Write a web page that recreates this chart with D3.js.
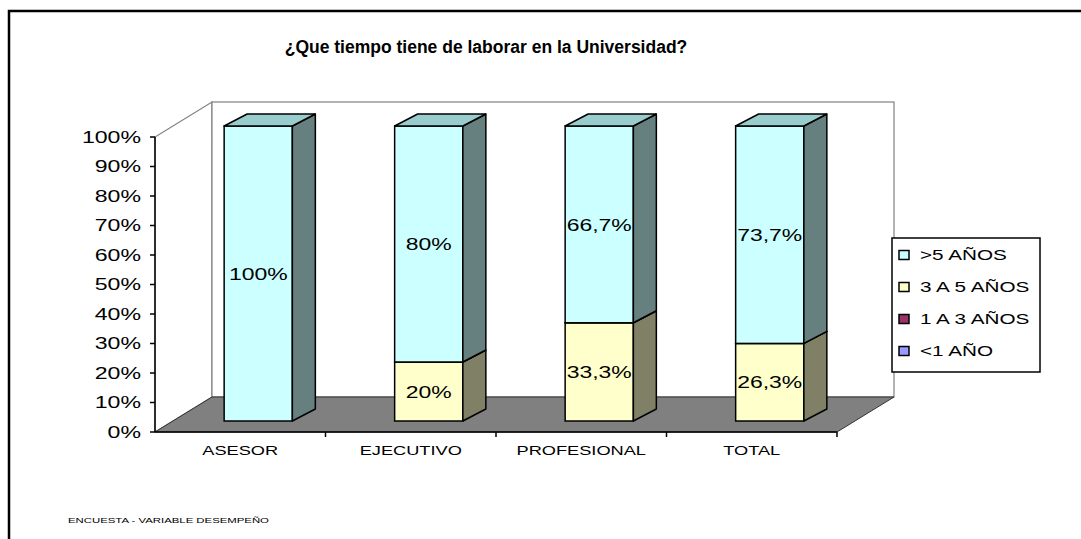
<!DOCTYPE html>
<html>
<head>
<meta charset="utf-8">
<script src="https://cdn.jsdelivr.net/npm/d3@7"></script>
<style>
  html, body { margin: 0; padding: 0; background: #fff; }
  svg { display: block; font-family: "Liberation Sans", Arial, sans-serif; }
</style>
</head>
<body>
<div id="graphContainer"></div>
<script>
// datos de la encuesta (porcentajes)
const categories = ['ASESOR', 'EJECUTIVO', 'PROFESIONAL', 'TOTAL'];
const seriesNames = ['>5 AÑOS', '3 A 5 AÑOS', '1 A 3 AÑOS', '<1 AÑO'];
const menos1 = [0, 0, 0, 0];
const de1a3 = [0, 0, 0, 0];
const de3a5 = [0, 20, 33.3, 26.3];
const mas5 = [100, 80, 66.7, 73.7];
const yTicks = [0, 10, 20, 30, 40, 50, 60, 70, 80, 90, 100];

const width = 1081;
const height = 539;

// colores: frente, lado, arriba
const colors = {
    '>5 AÑOS': ['#ccffff', '#668080', '#99cccc'],
    '3 A 5 AÑOS': ['#ffffcc', '#808066', '#cccca3'],
    '1 A 3 AÑOS': ['#993366', '#4d1a33', '#7a2952'],
    '<1 AÑO': ['#9999ff', '#4d4d80', '#7a7acc']
};

drawGraph();

function drawGraph() {
    const svg = d3.select('#graphContainer')
        .append('svg')
        .attr('width', width)
        .attr('height', height);

    // marco exterior
    svg.append('path')
        .attr('d', 'M9,' + height + ' V11 H' + width)
        .attr('fill', 'none')
        .attr('stroke', '#000')
        .attr('stroke-width', 2.5);

    const x = d3.scaleBand().domain(categories).range([155, 837]);
    const y = d3.scaleLinear().domain([0, 100]).range([432, 137]);

    const depth = [57, -35];     // profundidad del piso
    const barOff = [18, -11];    // frente de la barra
    const barDepth = [23, -12];  // grosor de la barra

    const y0 = y(0), y1 = y(100);
    const xL = x.range()[0], xR = x.range()[1];

    // pared izquierda
    svg.append('polygon')
        .attr('points', [[xL, y0], [xL, y1], [xL + depth[0], y1 + depth[1]], [xL + depth[0], y0 + depth[1]]].join(' '))
        .attr('fill', '#fff')
        .attr('stroke', '#808080')
        .attr('stroke-width', 1.2);

    // pared del fondo
    svg.append('rect')
        .attr('x', xL + depth[0])
        .attr('y', y1 + depth[1])
        .attr('width', xR - xL)
        .attr('height', y0 - y1)
        .attr('fill', '#fff')
        .attr('stroke', '#808080')
        .attr('stroke-width', 1.2);

    // piso
    svg.append('polygon')
        .attr('points', [[xL, y0], [xR, y0], [xR + depth[0], y0 + depth[1]], [xL + depth[0], y0 + depth[1]]].join(' '))
        .attr('fill', '#808080')
        .attr('stroke', '#333')
        .attr('stroke-width', 1);

    // eje y
    svg.append('line')
        .attr('x1', xL).attr('x2', xL)
        .attr('y1', y0).attr('y2', y1)
        .attr('stroke', '#000').attr('stroke-width', 1.5);

    svg.append('g')
        .selectAll('line')
        .data(yTicks)
        .enter()
        .append('line')
        .attr('x1', xL - 5).attr('x2', xL)
        .attr('y1', d => y(d)).attr('y2', d => y(d))
        .attr('stroke', '#000').attr('stroke-width', 1.5);

    const yLabels = svg.append('g')
        .selectAll('text')
        .data(yTicks)
        .enter()
        .append('text')
        .attr('x', 141)
        .attr('y', d => y(d))
        .attr('dy', '0.36em')
        .attr('text-anchor', 'end')
        .attr('font-size', 16.5)
        .text(d => d + '%');
    stretch(yLabels, 1.4);

    // eje x
    svg.append('line')
        .attr('x1', xL).attr('x2', xR)
        .attr('y1', y0).attr('y2', y0)
        .attr('stroke', '#000').attr('stroke-width', 1.5);

    svg.append('g')
        .selectAll('line')
        .data(categories.slice(1).concat(['__end']))
        .enter()
        .append('line')
        .attr('x1', d => d === '__end' ? xR : x(d))
        .attr('x2', d => d === '__end' ? xR : x(d))
        .attr('y1', y0).attr('y2', y0 + 5)
        .attr('stroke', '#000').attr('stroke-width', 1.5);

    const xLabels = svg.append('g')
        .selectAll('text')
        .data(categories)
        .enter()
        .append('text')
        .attr('x', d => x(d) + x.bandwidth() / 2)
        .attr('y', 455)
        .attr('text-anchor', 'middle')
        .attr('font-size', 13)
        .text(d => d);
    stretch(xLabels, 1.4);

    // barras apiladas
    const stackData = categories.map(function (c, i) {
        return {
            cat: c,
            segs: [
                { name: '<1 AÑO', v: menos1[i] },
                { name: '1 A 3 AÑOS', v: de1a3[i] },
                { name: '3 A 5 AÑOS', v: de3a5[i] },
                { name: '>5 AÑOS', v: mas5[i] }
            ]
        };
    });

    const barW = x.bandwidth() * 0.4;
    const labels = [];

    stackData.forEach(function (d) {
        const bx = x(d.cat) + (x.bandwidth() - barW) / 2 + barOff[0];
        const g = svg.append('g');
        let acc = 0;
        const segs = d.segs.filter(s => s.v > 0);
        segs.forEach(function (s) {
            const top = y(acc + s.v) + barOff[1];
            const bot = y(acc) + barOff[1];
            const c = colors[s.name];
            g.append('rect')
                .attr('x', bx).attr('y', top)
                .attr('width', barW).attr('height', bot - top)
                .attr('fill', c[0])
                .attr('stroke', '#000').attr('stroke-width', 1.5);
            g.append('polygon')
                .attr('points', [[bx + barW, bot], [bx + barW, top], [bx + barW + barDepth[0], top + barDepth[1]], [bx + barW + barDepth[0], bot + barDepth[1]]].join(' '))
                .attr('fill', c[1])
                .attr('stroke', '#000').attr('stroke-width', 1.5)
                .attr('stroke-linejoin', 'round');
            g.append('polygon')
                .attr('points', [[bx, top], [bx + barW, top], [bx + barW + barDepth[0], top + barDepth[1]], [bx + barDepth[0], top + barDepth[1]]].join(' '))
                .attr('fill', c[2])
                .attr('stroke', '#000').attr('stroke-width', 1.5)
                .attr('stroke-linejoin', 'round');
            labels.push({ x: bx + barW / 2, y: (top + bot) / 2, v: s.v });
            acc += s.v;
        });
    });

    const dataLabels = svg.append('g')
        .selectAll('text')
        .data(labels)
        .enter()
        .append('text')
        .attr('x', d => d.x)
        .attr('y', d => d.y)
        .attr('dy', '0.36em')
        .attr('text-anchor', 'middle')
        .attr('font-size', 17)
        .text(d => (d.v % 1 === 0 ? d.v : d.v.toFixed(1).replace('.', ',')) + '%');
    stretch(dataLabels, 1.35);

    // leyenda
    const legend = svg.append('g').attr('transform', 'translate(892,238)');
    legend.append('rect')
        .attr('width', 148).attr('height', 134)
        .attr('fill', '#fff')
        .attr('stroke', '#000').attr('stroke-width', 1.5);

    const item = legend.selectAll('g')
        .data(seriesNames)
        .enter()
        .append('g')
        .attr('transform', (d, i) => 'translate(0,' + (17 + i * 32) + ')');
    item.append('rect')
        .attr('x', 7).attr('y', -4.5)
        .attr('width', 10).attr('height', 9)
        .attr('fill', d => colors[d][0])
        .attr('stroke', '#000').attr('stroke-width', 1.5);
    const legText = item.append('text')
        .attr('x', 28)
        .attr('dy', '0.36em')
        .attr('font-size', 15)
        .text(d => d);
    stretch(legText, 1.38);

    // titulo
    svg.append('text')
        .attr('x', 486)
        .attr('y', 53)
        .attr('text-anchor', 'middle')
        .attr('font-size', 17.5)
        .attr('font-weight', 'bold')
        .text('¿Que tiempo tiene de laborar en la Universidad?');

    const foot = svg.append('text')
        .attr('x', 68)
        .attr('y', 523)
        .attr('font-size', 8)
        .text('ENCUESTA - VARIABLE DESEMPEÑO');
    stretch(foot, 1.42);
}

// estira el texto a lo ancho como lo hace Excel
function stretch(sel, k) {
    sel.each(function () {
        const w = this.getComputedTextLength();
        d3.select(this)
            .attr('textLength', w * k)
            .attr('lengthAdjust', 'spacingAndGlyphs');
    });
}
</script>
</body>
</html>
